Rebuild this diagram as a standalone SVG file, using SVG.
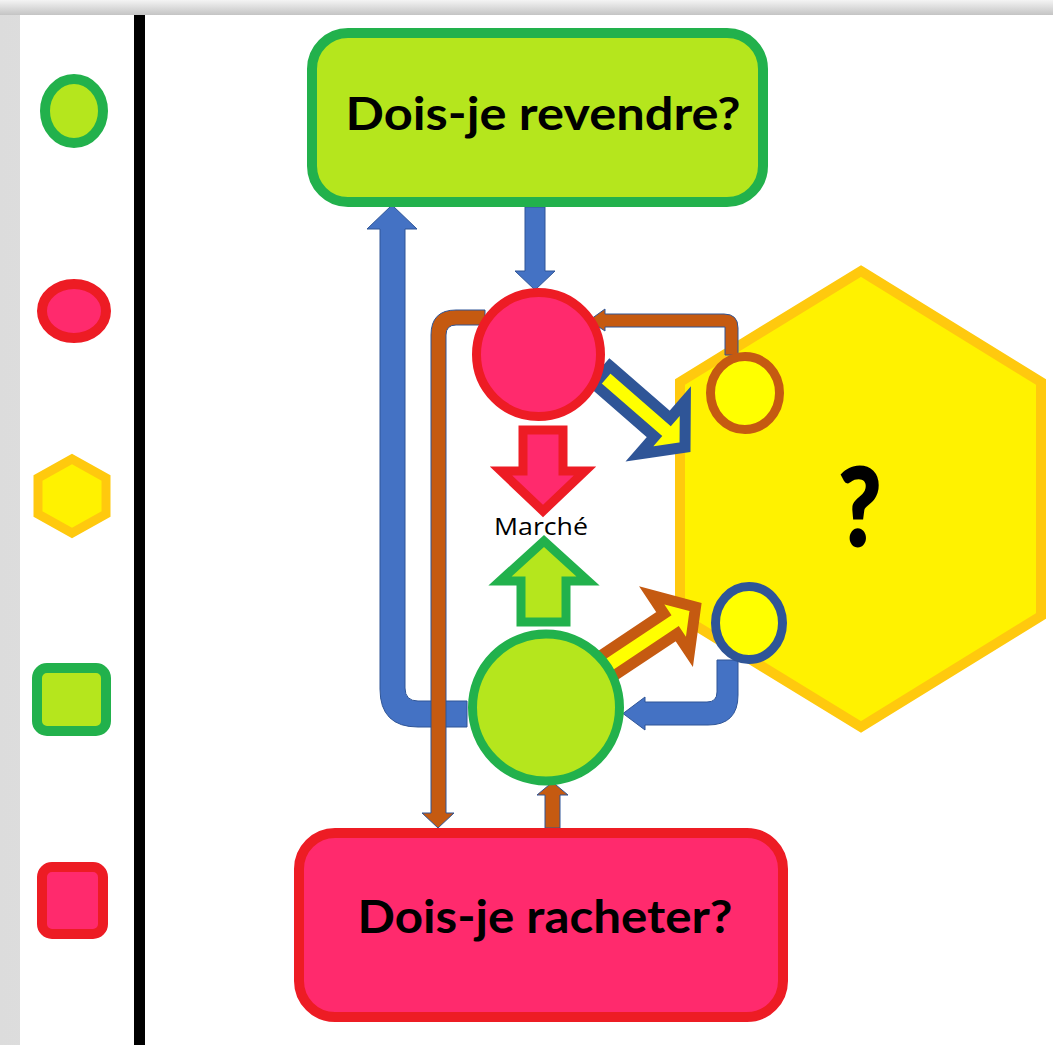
<svg xmlns="http://www.w3.org/2000/svg" width="1053" height="1045" viewBox="0 0 1053 1045">
<defs>
<linearGradient id="gTop" x1="0" y1="0" x2="0" y2="1"><stop offset="0" stop-color="#f4f4f4"/><stop offset="1" stop-color="#c4c4c4"/></linearGradient>
<linearGradient id="gLeft" x1="0" y1="0" x2="1" y2="0"><stop offset="0" stop-color="#dcdcdc"/><stop offset="0.7" stop-color="#eeeeee"/><stop offset="1" stop-color="#cccccc"/></linearGradient>
<style>
.gfill{fill:#B5E61D;stroke:#22B14C}
.rfill{fill:#FF2A6D;stroke:#ED1C24}
.blue{fill:#4472C4;stroke:#2F5597;stroke-width:1}
.brown{fill:#C55A11;stroke:#2F5597;stroke-width:1}
.big{font-family:Lato,"Liberation Sans",sans-serif;font-weight:bold;fill:#000}
</style>
</defs>
<rect x="0" y="0" width="1053" height="1045" fill="url(#gLeft)"/>
<rect x="0" y="0" width="1053" height="15" fill="url(#gTop)"/>
<rect x="20" y="15" width="1033" height="1030" fill="#fff"/>
<rect x="134" y="15" width="11" height="1030" fill="#000"/>

<g id="legend-circle"><ellipse cx="74" cy="111" rx="29" ry="32" class="gfill" stroke-width="10"/></g>
<g id="legend-ellipse"><ellipse cx="74" cy="311" rx="32" ry="27" class="rfill" stroke-width="10"/></g>
<g id="legend-hexagon"><polygon points="72,459 106,478 106,514 72,533 38,514 38,478" fill="#FFF200" stroke="#FFC90E" stroke-width="9"/></g>
<g id="legend-square-green"><rect x="37" y="668" width="69" height="63" rx="10" class="gfill" stroke-width="10"/></g>
<g id="legend-square-red"><rect x="42" y="867" width="61" height="67" rx="10" class="rfill" stroke-width="10"/></g>

<g id="hexagon">
<polygon points="861,271 1041,382 1041,616 861,727 680,616 680,382" fill="#FFF200" stroke="#FFC90E" stroke-width="10"/>
<text x="860" y="545" class="big" font-size="108" font-weight="900" stroke="#000" stroke-width="3" text-anchor="middle" textLength="42" lengthAdjust="spacingAndGlyphs">?</text>
</g>

<g id="connectors">
<path class="blue" d="M525 207 L545 207 L545 271 L555 271 L535 290 L515 271 L525 271 Z"/>
<path class="blue" d="M467 701 L418 701 Q405 701 405 688 L405 229 L417 229 L392 205 L367 229 L380 229 L380 689 Q380 727 418 727 L467 727 Z"/>
<path class="brown" d="M485 310 L456 310 Q431 310 431 335 L431 813 L422 813 L438 828 L454 813 L446 813 L446 335 Q446 325 456 325 L485 325 Z"/>
<path class="brown" d="M725 355 L725 327 L605 327 L605 331 L589 320.5 L605 309 L605 314 L724 314 Q738 314 738 328 L738 355 Z"/>
<path class="blue" d="M717 660 L717 692 Q717 702 707 702 L645 702 L645 697 L623 713.5 L645 730 L645 725 L708 725 Q738 725 738 695 L738 660 Z"/>
<path class="brown" d="M545 828 L560 828 L560 795 L568 795 L552.5 782 L537 795 L545 795 Z"/>
<polygon transform="translate(602,375) rotate(41)" points="0,-12 80,-12 80,-35 110,0 80,35 80,12 0,12" fill="#FFFF00" stroke="#2F5597" stroke-width="11"/>
<polygon transform="translate(604,668) rotate(-33.7)" points="0,-12 80,-12 80,-34 110,0 80,34 80,12 0,12" fill="#FFFF00" stroke="#C55A11" stroke-width="11"/>
<polygon points="523,430 563,430 563,471 585,471 543,511 501,471 523,471" fill="#FF2A6D" stroke="#ED1C24" stroke-width="9"/>
<polygon points="521,622 566,622 566,581 588,581 544,541 500,581 521,581" fill="#B5E61D" stroke="#22B14C" stroke-width="9"/>
</g>

<g id="marche"><text x="541" y="535" font-family="'Open Sans','Noto Sans',sans-serif" font-size="23" text-anchor="middle" fill="#000" textLength="94" lengthAdjust="spacingAndGlyphs">Marché</text></g>

<g id="box-revendre">
<rect x="312" y="33" width="451" height="169" rx="36" class="gfill" stroke-width="10"/>
<text x="543" y="130" class="big" font-size="45" text-anchor="middle" textLength="395" lengthAdjust="spacingAndGlyphs">Dois-je revendre?</text>
</g>
<g id="box-racheter">
<rect x="299" y="833" width="484" height="184" rx="36" class="rfill" stroke-width="10"/>
<text x="545" y="933" class="big" font-size="46" text-anchor="middle" textLength="375" lengthAdjust="spacingAndGlyphs">Dois-je racheter?</text>
</g>
<g id="circle-red"><circle cx="538.5" cy="354.5" r="62" class="rfill" stroke-width="9"/></g>
<g id="circle-green"><circle cx="546" cy="707.5" r="73.5" class="gfill" stroke-width="9"/></g>
<g id="port-top"><ellipse cx="745" cy="393" rx="34.5" ry="36.5" fill="#FFFF00" stroke="#C55A11" stroke-width="9"/></g>
<g id="port-bottom"><ellipse cx="749" cy="623" rx="33.5" ry="36.5" fill="#FFFF00" stroke="#2F5597" stroke-width="9"/></g>
</svg>
